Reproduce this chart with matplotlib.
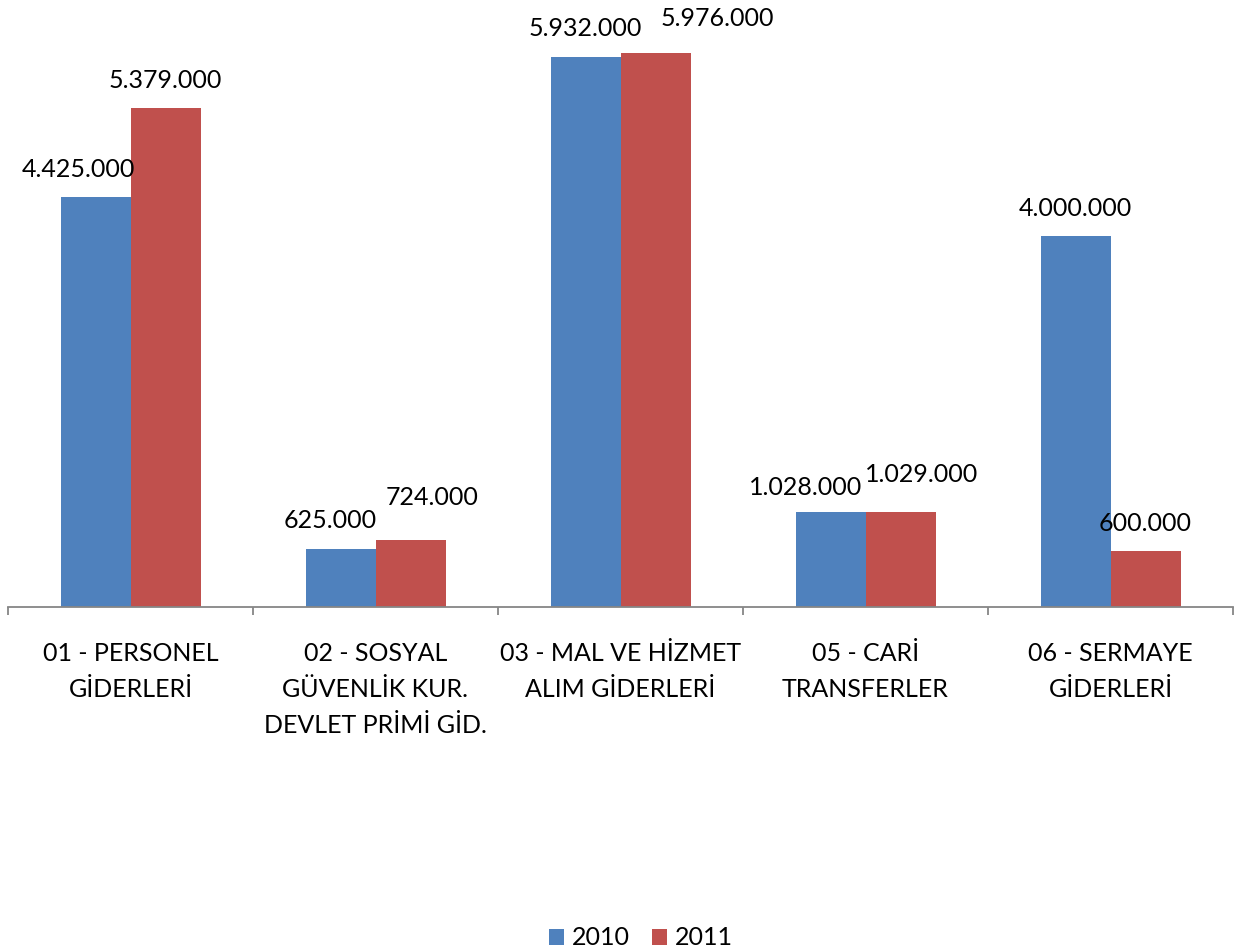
import matplotlib.pyplot as plt
import numpy as np

# data
categories = ["01 - PERSONEL\nGİDERLERİ",
              "02 - SOSYAL\nGÜVENLİK KUR.\nDEVLET PRİMİ GİD.",
              "03 - MAL VE HİZMET\nALIM GİDERLERİ",
              "05 - CARİ\nTRANSFERLER",
              "06 - SERMAYE\nGİDERLERİ"]
values_2010 = [4425000, 625000, 5932000, 1028000, 4000000]
values_2011 = [5379000, 724000, 5976000, 1029000, 600000]

# label nudges (pixels), like the hand-moved labels in the original
nudge_2010 = [(-17, -1), (-10, 1), (0, 1), (-25, -4), (0, 0)]
nudge_2011 = [(0, 0), (22, 14), (62, 7), (21, 9), (0, 0)]

plt.rcParams['font.family'] = ['Lato', 'DejaVu Sans']
fs = 18

fig = plt.figure(figsize=(12.35, 9.51), dpi=100)
ax = fig.add_axes([8 / 1235, 344 / 951, 1225 / 1235, 607 / 951])

x = np.arange(len(categories))
w = 70 / 245
b1 = ax.bar(x - w / 2, values_2010, w, color="#4F81BD", label="2010")
b2 = ax.bar(x + w / 2, values_2011, w, color="#C0504D", label="2011")

def fmt(v):
    return f"{v:,}".replace(",", ".")

for bars, vals, nud in [(b1, values_2010, nudge_2010), (b2, values_2011, nudge_2011)]:
    for rect, v, (dx, dy) in zip(bars, vals, nud):
        ax.annotate(fmt(v), (rect.get_x() + rect.get_width() / 2, v),
                    xytext=(dx, 28 + dy), textcoords="offset pixels",
                    ha="center", va="center", fontsize=fs, annotation_clip=False)

ax.set_xlim(-0.5, len(categories) - 0.5)
ax.set_ylim(0, 6548000)
ax.set_yticks([])
for s in ["top", "right", "left"]:
    ax.spines[s].set_visible(False)
ax.spines["bottom"].set_color("#868686")
ax.spines["bottom"].set_linewidth(1.3)

ax.set_xticks(x)
ax.set_xticklabels(categories, fontsize=fs, linespacing=1.7)
ax.tick_params(axis="x", which="major", length=0, pad=25)
ax.set_xticks(np.arange(len(categories) + 1) - 0.5, minor=True)
ax.tick_params(axis="x", which="minor", length=6, width=1.3, color="#868686")

fig.legend(handles=[b1, b2], labels=["2010", "2011"], loc="lower center",
           bbox_to_anchor=(0.519, -0.022), ncol=2, frameon=False, fontsize=fs,
           handlelength=0.6, handleheight=0.6, handletextpad=0.3,
           columnspacing=0.9)

fig.savefig("out.png", dpi=100)
